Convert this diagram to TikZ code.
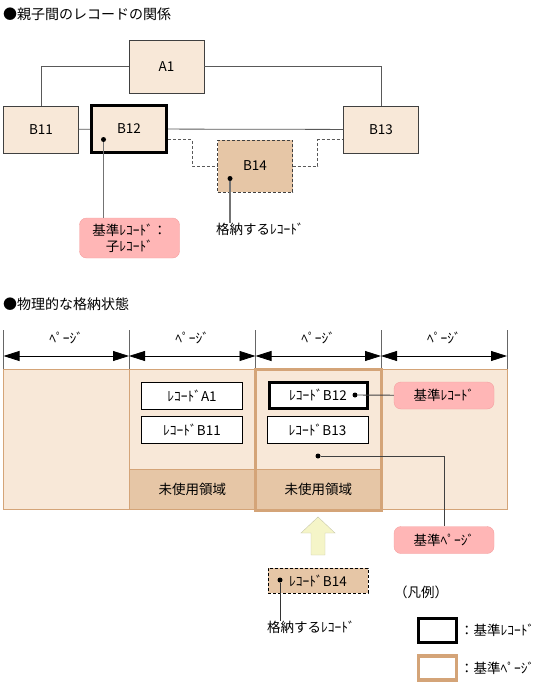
\documentclass[tikz,border=0pt]{standalone}
\usepackage{fontspec}
\setmainfont{Noto Sans CJK JP}
\usetikzlibrary{arrows.meta,positioning}
\definecolor{pagefill}{RGB}{248,232,216}
\definecolor{freefill}{RGB}{230,198,166}
\definecolor{pageline}{RGB}{212,164,120}
\definecolor{notefill}{RGB}{255,182,182}
\definecolor{noteline}{RGB}{244,160,160}
\definecolor{upfill}{RGB}{245,245,200}
\definecolor{upline}{RGB}{200,200,170}

\begin{document}
\begin{tikzpicture}[x=1pt, y=-1pt,
	font=\fontsize{13.5}{16}\selectfont,
	% caixas das registros
	rec/.style={draw=black!75, fill=pagefill, minimum width=75pt, minimum height=47pt, inner sep=0pt},
	baserec/.style={line width=3pt, draw=black},
	link/.style={draw=black!65, line width=0.8pt},
	dashline/.style={dash pattern=on 3pt off 2pt},
	% balões
	note/.style={draw=noteline, fill=notefill, rounded corners=7pt, minimum width=100pt, minimum height=27pt, inner sep=1pt},
	pin/.style={draw=black!55, line width=1.4pt},
	slot/.style={draw=black, fill=white, minimum width=101pt, minimum height=27pt, inner sep=0pt},
	free/.style={draw=pageline, fill=freefill, minimum width=126.5pt, minimum height=40pt, inner sep=0pt},
	span/.style={black, line width=0.8pt, {Triangle[length=16pt,width=10pt]}-{Triangle[length=16pt,width=10pt]}},
	tick/.style={draw=black!60, line width=0.8pt},
	dot/.style={circle, fill=black, inner sep=0pt, minimum size=5pt}]
\useasboundingbox (0,0) rectangle (545,685);

%% relacoes
\node[anchor=west, inner sep=0pt, font=\fontsize{14}{16}\selectfont] (t1) at (3,14) {●親子間のレコードの関係};
\node[rec, minimum height=53pt] (A1) at (166.5,66.5) {A1};
\node[rec] (B11) at (41,129.5) {B11};
\node[rec, baserec] (B12) at (129,129) {B12};
\node[rec] (B13) at (381,129.5) {B13};
\node[rec, dashline, fill=freefill, minimum height=52pt] (B14) at (255,166) {B14};
\draw[link] (A1.west) -| (B11.north);
\draw[link] (A1.east) -| (B13.north);
\draw[link] (B11) -- (B12);
\draw[link] (B12) -- (B13);
\draw[link, dashline] (B12.east |- B14.north) -- ++(24,0) |- (B14.west);
\draw[link, dashline] (B14.east) -- ++(25,0) |- (B13.west |- B14.north);

\node[dot] (d12) at (103.5,139.5) {};
\node[note, align=center, minimum height=40pt] (n12) at (129.5,238) {基準ﾚｺｰﾄﾞ：\\子ﾚｺｰﾄﾞ};
\draw[pin] (d12) -- (d12 |- n12.north);
\node[dot] (d14) at (230,178.5) {};
\node[anchor=north west, inner sep=0pt] (s14) at (216,223) {格納するﾚｺｰﾄﾞ};
\draw[pin] (d14) -- (d14 |- s14.north);

%% estado fisico
\node[anchor=west, inner sep=0pt, font=\fontsize{14}{16}\selectfont] (t2) at (3,304) {●物理的な格納状態};
\foreach \x [count=\i] in {3.5,129,255.5,381,507}
	\coordinate (p\i) at (\x,369);
\draw[draw=pageline, fill=pagefill] (p1) rectangle (507,509);
\foreach \i in {2,4}
	\draw[pageline] (p\i) -- ++(0,140);
\foreach \i in {1,...,5}
	\draw[tick] (p\i) -- ++(0,-39);
\foreach \a/\b in {1/2,2/3,3/4,4/5}
	\draw[span] ([yshift=13pt]p\a) -- node[midway, yshift=18pt, inner sep=0pt] {ﾍﾟｰｼﾞ} ([yshift=13pt]p\b);
\node[free] (u2) at (192.25,489) {未使用領域};
\node[free] (u3) at (318.25,489) {未使用領域};
\draw[pageline, line width=3pt] (p3) rectangle (381,510.5);

\node[slot] (rA1) at (192,395.5) {ﾚｺｰﾄﾞA1};
\node[slot] (rB11) at (192,430) {ﾚｺｰﾄﾞB11};
\node[slot, line width=3pt, minimum width=98pt, minimum height=26pt] (rB12) at (318,395) {ﾚｺｰﾄﾞB12};
\node[slot] (rB13) at (317.5,430) {ﾚｺｰﾄﾞB13};

\node[note] (nrec) at (444,395.5) {基準ﾚｺｰﾄﾞ};
\node[dot] (dB12) at (355,395) {};
\draw[black!75, line width=0.9pt] (dB12) -- (nrec);
\node[note] (npage) at (444,540) {基準ﾍﾟｰｼﾞ};
\node[dot] (dpg) at (318,456) {};
\draw[black!75, line width=0.9pt] (dpg) -| (npage.north);

% seta amarela
\draw[upline, fill=upfill] (318,517) -- (335,533) -- (325,533) -- (325,555)
	-- (311,555) -- (311,533) -- (301,533) -- cycle;

\node[slot, dashline, fill=freefill, minimum width=100pt, minimum height=25pt] (rB14) at (318,580.5) {ﾚｺｰﾄﾞB14};
\node[dot] (dB14) at (280,580) {};
\node[anchor=north west, inner sep=0pt] (sB14) at (267,621) {格納するﾚｺｰﾄﾞ};
\draw[black!80, line width=0.9pt] (dB14) -- (dB14 |- sB14.north);

%% legenda
\node (leg) at (421,592) {（凡例）};
\node[draw=black, line width=3.5pt, fill=white, minimum width=38pt, minimum height=24pt, inner sep=0pt] (k1) at (437.5,630.5) {};
\node[anchor=west, inner sep=0pt] (k1t) at (460,630.5) {：基準ﾚｺｰﾄﾞ};
\node[draw=pageline, line width=3.5pt, fill=white, minimum width=38pt, minimum height=24pt, inner sep=0pt] (k2) at (437.5,668) {};
\node[anchor=west, inner sep=0pt] (k2t) at (460,668) {：基準ﾍﾟｰｼﾞ};
\end{tikzpicture}
\end{document}
